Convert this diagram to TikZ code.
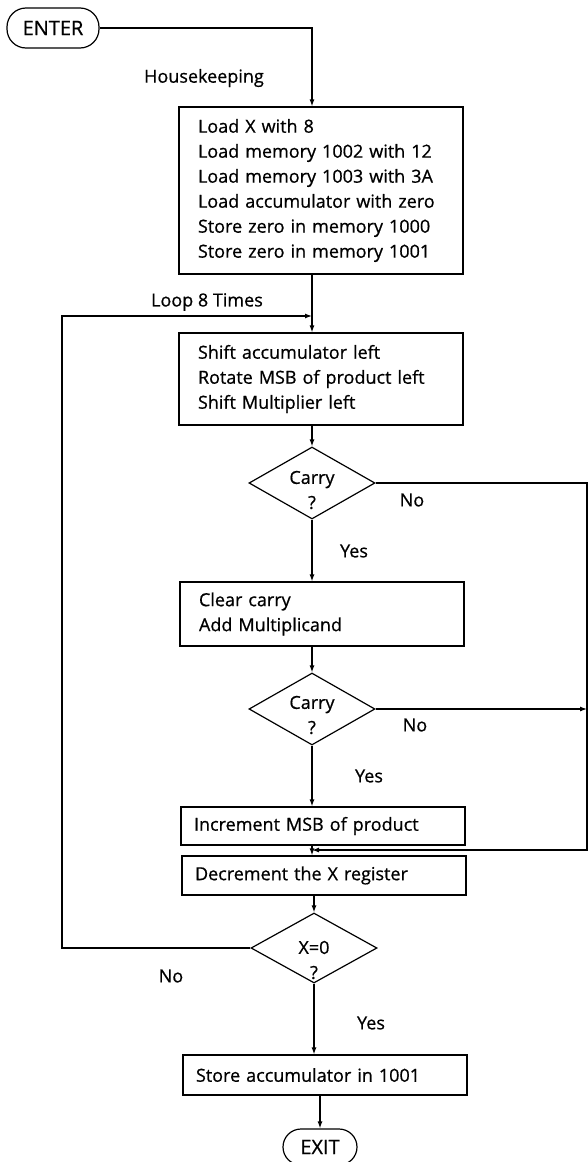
\documentclass[tikz,border=0pt]{standalone}
\usepackage{fontspec}
\setmainfont{Open Sans}[FakeBold=0.7]
\usetikzlibrary{arrows.meta,shapes.geometric,calc}
\begin{document}
\begin{tikzpicture}[x=1pt,y=-1pt,line width=1.2pt,
  every node/.style={font=\fontsize{18}{25}\selectfont},
  arr/.style={-{Latex[length=7pt,width=5pt]}},
  multibox/.style={draw,rectangle,line width=1.2pt,text width=246pt,inner xsep=19pt,inner ysep=0pt,align=left},
  onebox/.style={draw,rectangle,line width=1.2pt,text width=258pt,inner xsep=13pt,inner ysep=0pt,align=left},
  decide/.style={draw,diamond,line width=1.2pt,minimum width=126pt,minimum height=72pt,inner sep=0pt},
  dtext/.style={align=center,inner sep=0pt},
  term/.style={draw,rectangle,rounded corners=19pt,line width=1.2pt,inner sep=0pt,font=\fontsize{20}{24}\selectfont},
  lbl/.style={inner sep=0pt}]
\useasboundingbox (0,0) rectangle (588,1162);
\fill[white] (0,0) rectangle (588,1162);

\coordinate (spine) at (312,0);
\coordinate (rt) at (587,0);
\coordinate (lt) at (62,0);

\node[term,minimum width=92pt,minimum height=40pt] (enter) at (53,28) {ENTER};

\node[multibox,minimum height=167pt] (box1) at (321,190.5) {Load X with 8\\Load memory 1002 with 12\\Load memory 1003 with 3A\\Load accumulator with zero\\Store zero in memory 1000\\Store zero in memory 1001};

\node[multibox,minimum height=92pt] (box2) at (321,379) {Shift accumulator left\\Rotate MSB of product left\\Shift Multiplier left};

\node[decide] (d1) at (312,483) {};
\node[dtext] (d1t) at ([yshift=-7pt]d1.center) {Carry\\?};

\node[multibox,minimum height=64pt] (box3) at (322,614) {Clear carry\\Add Multiplicand};

\node[decide] (d2) at (312,709) {};
\node[dtext] (d2t) at ([yshift=-6pt]d2.center) {Carry\\?};

\node[onebox,minimum height=38pt] (box4) at (323,826) {Increment MSB of product};
\node[onebox,minimum height=39pt] (box5) at (324,875.5) {Decrement the X register};

\node[decide,minimum height=70pt] (d3) at (314,948) {};
\node[dtext] (d3t) at ([yshift=-12pt]d3.center) {X=0\\?};

\node[onebox,minimum height=40pt] (box6) at (325,1075) {Store accumulator in 1001};

\node[term,minimum width=74pt,minimum height=36pt,rounded corners=18pt] (exit) at (320,1147) {EXIT};

% labels
\node[lbl] (hk) at (204,78) {Housekeeping};
\node[lbl] (loop) at (207,302) {Loop 8 Times};
\node[lbl] (no1) at (412,500) {No};
\node[lbl] (yes1) at (354,551) {Yes};
\node[lbl] (no2) at (415,725) {No};
\node[lbl] (yes2) at (369,776) {Yes};
\node[lbl] (no3) at (171,976) {No};
\node[lbl] (yes3) at (371,1023) {Yes};

% main flow
\draw[arr] (enter.east) -| (box1.north -| spine);
\draw[arr] (box1.south -| spine) -- (box2.north -| spine);
\draw[arr] (box2.south -| spine) -- (d1.north);
\draw[arr] (d1.south) -- (box3.north -| spine);
\draw[arr] (box3.south -| spine) -- (d2.north);
\draw[arr] (d2.south) -- (box4.north -| spine);
\draw[arr] (box4.south -| spine) -- (box5.north -| spine);
\draw[arr] (box5.south -| d3) -- (d3.north);
\draw[arr] (d3.south) -- (box6.north -| d3);
\draw[arr] (box6.south -| exit) -- (exit.north);

% right side (No branches)
\coordinate (join) at ($(box4.south -| spine)!0.45!(box5.north -| spine)$);
\draw[arr] (d1.east) -| (join -| rt) -- (join);
\draw[arr] (d2.east) -- (d2.east -| rt);

% loop back
\coordinate (loopin) at (312,316);
\draw[arr] (d3.west) -| (loopin -| lt) -- (loopin);
\end{tikzpicture}
\end{document}
